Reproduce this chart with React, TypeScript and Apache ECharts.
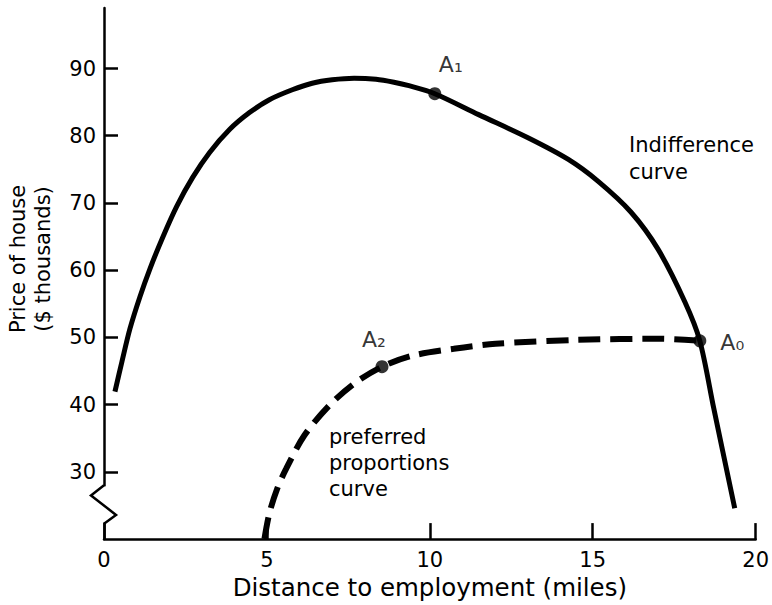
import React, { useEffect, useRef } from "react";
import * as echarts from "echarts";

// Indifference curve (distance in miles, price in $ thousands)
const indiffX = [0.336, 0.55, 0.795, 1.101, 1.407, 1.804, 2.232, 2.722, 3.242, 3.853, 4.465, 5.076, 5.78, 6.391, 7.003, 7.676, 8.349, 8.899, 9.358, 10.153, 11.498, 13.028, 14.251, 15.168, 16.177, 17.003, 17.829, 18.287, 18.716, 19.358];
const indiffY = [41.94, 46.38, 51.27, 56.02, 60.17, 64.91, 69.5, 73.8, 77.51, 80.92, 83.44, 85.36, 86.84, 87.81, 88.32, 88.55, 88.4, 87.96, 87.44, 86.25, 83.14, 79.66, 76.47, 73.21, 68.62, 63.13, 55.27, 49.49, 39.42, 24.59];

// Preferred proportions curve
const prefX = [4.924, 5.076, 5.321, 5.596, 6.147, 6.911, 7.676, 8.532, 9.45, 10.734, 12.018, 14.557, 17.095, 18.287];
const prefY = [20.0, 23.85, 27.56, 30.52, 35.41, 39.86, 43.12, 45.64, 47.27, 48.31, 49.05, 49.64, 49.79, 49.49];

// Marked points
const pointNames = ["A₁", "A₂", "A₀"];
const pointX = [10.153, 8.532, 18.287];
const pointY = [86.25, 45.64, 49.49];

// Axis ticks
const xTicks = [0, 5, 10, 15, 20];
const yTicks = [30, 40, 50, 60, 70, 80, 90];

const FONT = "DejaVu Sans";

export default function App() {
  const ref = useRef<HTMLDivElement>(null);
  useEffect(() => {
    if (!ref.current) return;
    const chart = echarts.init(ref.current, null, { renderer: "svg" });
    const labelPos: any[] = [
      { position: "top", distance: 12, offset: [16, 0] },
      { position: "top", distance: 10, offset: [-8, 0] },
      { position: "right", distance: 14, offset: [0, 2] },
    ];
    chart.setOption({
      animation: false,
      backgroundColor: "#ffffff",
      grid: { left: 104, right: 14, top: 8, bottom: 64 },
      xAxis: {
        type: "value",
        min: 0,
        max: 20,
        interval: 5,
        splitLine: { show: false },
        axisLine: { lineStyle: { color: "#000", width: 2.5 } },
        axisTick: { inside: true, length: 16, lineStyle: { color: "#000", width: 2.5 }, customValues: xTicks },
        axisLabel: { customValues: xTicks, color: "#000", fontFamily: FONT, fontSize: 21, margin: 10 },
        name: "Distance to employment (miles)",
        nameLocation: "middle",
        nameGap: 26,
        nameTextStyle: { color: "#000", fontFamily: FONT, fontSize: 24.5 },
      },
      yAxis: {
        type: "value",
        min: 20,
        max: 99,
        splitLine: { show: false },
        axisLine: { lineStyle: { color: "#000", width: 2.5 } },
        axisTick: { inside: true, length: 14, lineStyle: { color: "#000", width: 2.5 }, customValues: yTicks },
        axisLabel: { customValues: yTicks, color: "#000", fontFamily: FONT, fontSize: 21, margin: 8 },
      },
      series: [
        {
          type: "line",
          data: indiffX.map((x, i) => [x, indiffY[i]]),
          smooth: 0.3,
          symbol: "none",
          lineStyle: { color: "#000", width: 5 },
          z: 2,
        },
        {
          type: "line",
          data: prefX.map((x, i) => [x, prefY[i]]),
          smooth: 0.3,
          symbol: "none",
          lineStyle: { color: "#000", width: 6, type: [22, 10] },
          z: 2,
        },
        {
          type: "scatter",
          symbolSize: 13,
          itemStyle: { color: "#000" },
          z: 3,
          data: pointNames.map((n, i) => ({
            value: [pointX[i], pointY[i]],
            name: n,
            label: {
              show: true,
              formatter: n,
              color: "#000",
              fontFamily: FONT,
              fontSize: 22,
              ...labelPos[i],
            },
          })),
        },
      ],
    });

    const p = (x: number, y: number) => chart.convertToPixel({ gridIndex: 0 }, [x, y]) as number[];
    const top = p(0, 28.0);
    const left = p(0, 26.5);
    const right = p(0, 23.6);
    const bottom = p(0, 22.3);
    const ax = top[0];
    chart.setOption({
      graphic: [
        {
          type: "rect",
          shape: { x: ax - 5, y: top[1] + 1, width: 10, height: bottom[1] - top[1] - 2 },
          style: { fill: "#fff" },
          z: 50,
        },
        {
          type: "polyline",
          shape: { points: [[ax, top[1]], [ax - 13, left[1]], [ax + 12, right[1]], [ax, bottom[1]]] },
          style: { stroke: "#000", lineWidth: 2.5, fill: null },
          z: 51,
        },
        {
          type: "text",
          x: 30,
          y: 259,
          rotation: Math.PI / 2,
          style: {
            text: "Price of house\n($ thousands)",
            fill: "#000",
            font: `21px "${FONT}"`,
            align: "center",
            verticalAlign: "middle",
            lineHeight: 25,
          },
        },
        {
          type: "text",
          x: 629,
          y: 158,
          style: {
            text: "Indifference\ncurve",
            fill: "#000",
            font: `21px "${FONT}"`,
            align: "left",
            verticalAlign: "middle",
            lineHeight: 27,
          },
        },
        {
          type: "text",
          x: 329,
          y: 463,
          style: {
            text: "preferred\nproportions\ncurve",
            fill: "#000",
            font: `21px "${FONT}"`,
            align: "left",
            verticalAlign: "middle",
            lineHeight: 26,
          },
        },
      ],
    });
    return () => chart.dispose();
  }, []);
  return (
    <div
      ref={ref}
      style={{ position: "fixed", left: 0, top: 0, width: 772, height: 605, background: "#fff" }}
    />
  );
}
